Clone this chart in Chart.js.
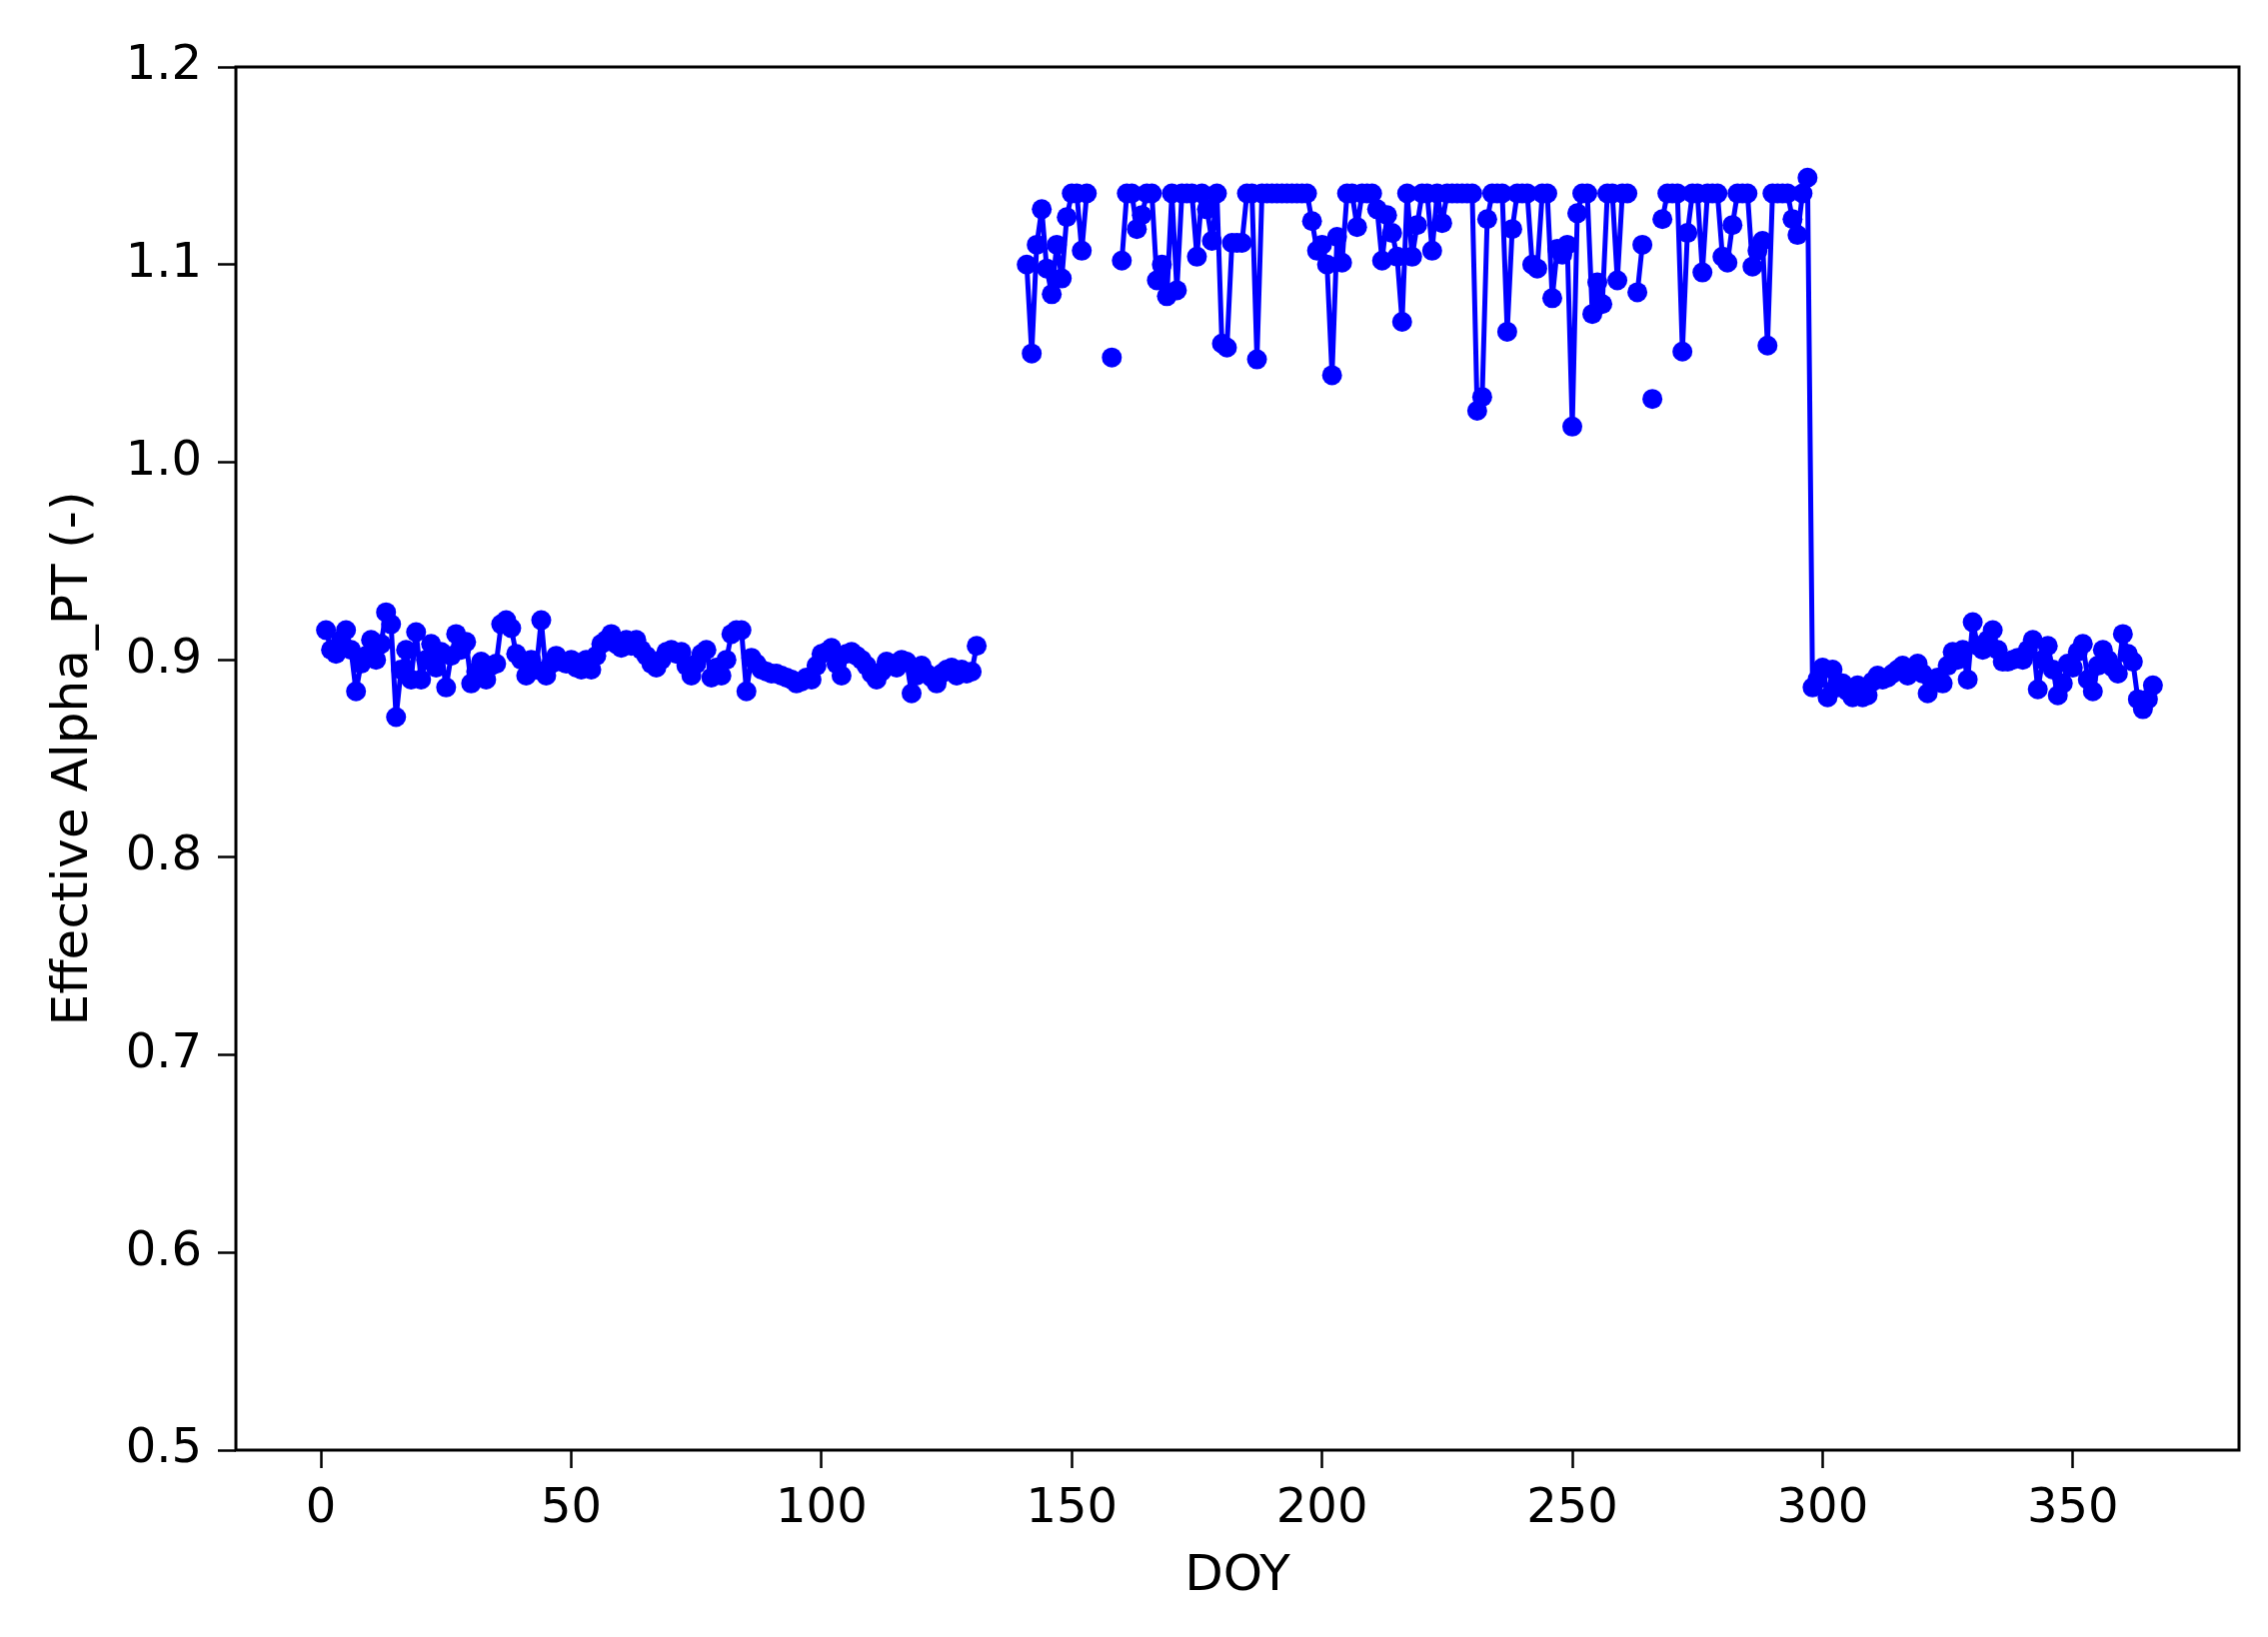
<!DOCTYPE html>
<html>
<head>
<meta charset="utf-8">
<title>Effective Alpha_PT by DOY</title>
<script src="https://cdn.jsdelivr.net/npm/chart.js@4.4.1/dist/chart.umd.min.js"></script>
<style>
  html, body { margin: 0; padding: 0; background: #fff; }
  canvas { display: block; }
</style>
</head>
<body>
<canvas id="alphaChart" width="2269" height="1638"></canvas>
<script>
// Effective Alpha_PT per day of year (null = missing day)
const segmentStart = [1, 141, 298];

// DOY 1-131
const lowSpring = [
  0.915, 0.905, 0.903, 0.910, 0.915, 0.905, 0.884, 0.898, 0.902, 0.910,
  0.900, 0.908, 0.924, 0.918, 0.871, 0.895, 0.905, 0.890, 0.914, 0.890,
  0.900, 0.908, 0.896, 0.904, 0.886, 0.902, 0.913, 0.905, 0.909, 0.888,
  0.894, 0.899, 0.890, 0.897, 0.898, 0.918, 0.920, 0.916, 0.903, 0.900,
  0.892, 0.900, 0.895, 0.920, 0.892, 0.898, 0.902, 0.899, 0.898, 0.900,
  0.896, 0.895, 0.900, 0.895, 0.902, 0.908, 0.910, 0.913, 0.908, 0.906,
  0.910, 0.907, 0.910, 0.905, 0.902, 0.898, 0.896, 0.900, 0.904, 0.905,
  0.903, 0.904, 0.897, 0.892, 0.898, 0.903, 0.905, 0.891, 0.896, 0.892,
  0.900, 0.913, 0.915, 0.915, 0.884, 0.901, 0.898, 0.895, 0.894, 0.893,
  0.893, 0.892, 0.891, 0.890, 0.888, 0.889, 0.891, 0.890, 0.897, 0.903,
  0.904, 0.906, 0.898, 0.892, 0.903, 0.904, 0.902, 0.900, 0.897, 0.893,
  0.890, 0.894, 0.899, 0.898, 0.896, 0.900, 0.899, 0.883, 0.892, 0.897,
  0.893, 0.891, 0.888, 0.893, 0.895, 0.896, 0.892, 0.895, 0.893, 0.894,
  0.907
];

// DOY 141-297
const growing = [
  1.100, 1.055, 1.110, 1.128, 1.098, 1.085, 1.110, 1.093, 1.124, 1.136,
  1.136, 1.107, 1.136, null,  null,  null,  null,  1.053, null,  1.102,
  1.136, 1.136, 1.118, 1.125, 1.136, 1.136, 1.092, 1.100, 1.084, 1.136,
  1.087, 1.136, 1.136, 1.136, 1.104, 1.136, 1.128, 1.112, 1.136, 1.060,
  1.058, 1.111, 1.111, 1.111, 1.136, 1.136, 1.052, 1.136, 1.136, 1.136,
  1.136, 1.136, 1.136, 1.136, 1.136, 1.136, 1.136, 1.122, 1.107, 1.110,
  1.100, 1.044, 1.114, 1.101, 1.136, 1.136, 1.119, 1.136, 1.136, 1.136,
  1.128, 1.102, 1.125, 1.116, 1.104, 1.071, 1.136, 1.104, 1.120, 1.136,
  1.136, 1.107, 1.136, 1.121, 1.136, 1.136, 1.136, 1.136, 1.136, 1.136,
  1.026, 1.033, 1.123, 1.136, 1.136, 1.136, 1.066, 1.118, 1.136, 1.136,
  1.136, 1.100, 1.098, 1.136, 1.136, 1.083, 1.108, 1.105, 1.110, 1.018,
  1.126, 1.136, 1.136, 1.075, 1.091, 1.080, 1.136, 1.136, 1.092, 1.136,
  1.136, null,  1.086, 1.110, null,  1.032, null,  1.123, 1.136, 1.136,
  1.136, 1.056, 1.116, 1.136, 1.136, 1.096, 1.136, 1.136, 1.136, 1.104,
  1.101, 1.120, 1.136, 1.136, 1.136, 1.099, 1.107, 1.112, 1.059, 1.136,
  1.136, 1.136, 1.136, 1.123, 1.115, 1.136, 1.144
];

// DOY 298-366 (follows straight on from the growing season)
const lowAutumn = [
  0.886, 0.890, 0.896, 0.881, 0.895, 0.886, 0.888, 0.884, 0.881, 0.887,
  0.881, 0.882, 0.889, 0.892, 0.890, 0.891, 0.893, 0.895, 0.897, 0.892,
  0.895, 0.898, 0.893, 0.883, 0.888, 0.891, 0.888, 0.897, 0.904, 0.900,
  0.905, 0.890, 0.919, 0.907, 0.905, 0.910, 0.915, 0.905, 0.899, 0.899,
  0.900, 0.901, 0.900, 0.905, 0.910, 0.885, 0.900, 0.907, 0.895, 0.882,
  0.888, 0.898, 0.896, 0.904, 0.908, 0.890, 0.884, 0.897, 0.905, 0.900,
  0.896, 0.893, 0.913, 0.903, 0.899, 0.880, 0.875, 0.880, 0.887
];

const xTicks = [0, 50, 100, 150, 200, 250, 300, 350];
const yTicks = [0.5, 0.6, 0.7, 0.8, 0.9, 1.0, 1.1, 1.2];

// join the segments on DOY; missing days become null so the line breaks
const points = [];
[lowSpring, growing, lowAutumn].forEach((seg, s) => {
  if (points.length) {
    for (let d = points[points.length - 1].x + 1; d < segmentStart[s]; d++) points.push({ x: d, y: null });
  }
  seg.forEach((v, i) => points.push({ x: segmentStart[s] + i, y: v }));
});

const FONT = 'DejaVu Sans';
const BLACK = '#000000';

// frame round the plot area, like the matplotlib axes box
const frame = {
  id: 'frame',
  afterDatasetsDraw(chart) {
    const { ctx, chartArea: a } = chart;
    ctx.save();
    ctx.strokeStyle = BLACK;
    ctx.lineWidth = 3;
    ctx.strokeRect(a.left, a.top, a.right - a.left, a.bottom - a.top);
    ctx.restore();
  }
};

new Chart(document.getElementById('alphaChart'), {
  type: 'scatter',
  data: {
    datasets: [{
      data: points,
      showLine: true,
      spanGaps: false,
      borderColor: '#0000ff',
      backgroundColor: '#0000ff',
      borderWidth: 5,
      borderJoinStyle: 'round',
      borderCapStyle: 'round',
      pointRadius: 10,
      pointBorderWidth: 0,
      pointHoverRadius: 10
    }]
  },
  options: {
    responsive: false,
    animation: false,
    devicePixelRatio: 1,
    layout: { padding: { top: 67, right: 29, left: 0, bottom: 0 } },
    plugins: { legend: { display: false }, tooltip: { enabled: false } },
    scales: {
      x: {
        type: 'linear',
        min: -17,
        max: 383.2,
        afterBuildTicks: s => { s.ticks = xTicks.map(v => ({ value: v })); },
        afterFit: s => { s.height = 187; },
        grid: { drawOnChartArea: false, drawTicks: true, tickLength: 18, tickWidth: 2.5, tickColor: BLACK },
        border: { display: false },
        ticks: { color: BLACK, padding: 13, maxRotation: 0, font: { family: FONT, size: 48 } },
        title: { display: true, text: 'DOY', color: BLACK, padding: { top: 0, bottom: 30 }, font: { family: FONT, size: 50 } }
      },
      y: {
        type: 'linear',
        min: 0.5,
        max: 1.2,
        afterBuildTicks: s => { s.ticks = yTicks.map(v => ({ value: v })); },
        afterFit: s => { s.width = 236; },
        grid: { drawOnChartArea: false, drawTicks: true, tickLength: 18, tickWidth: 2.5, tickColor: BLACK },
        border: { display: false },
        ticks: { color: BLACK, padding: 16, callback: v => v.toFixed(1), font: { family: FONT, size: 48 } },
        title: { display: true, text: 'Effective Alpha_PT (-)', color: BLACK, padding: { top: 44, bottom: 0 }, font: { family: FONT, size: 50 } }
      }
    }
  },
  plugins: [frame]
});
</script>
</body>
</html>
